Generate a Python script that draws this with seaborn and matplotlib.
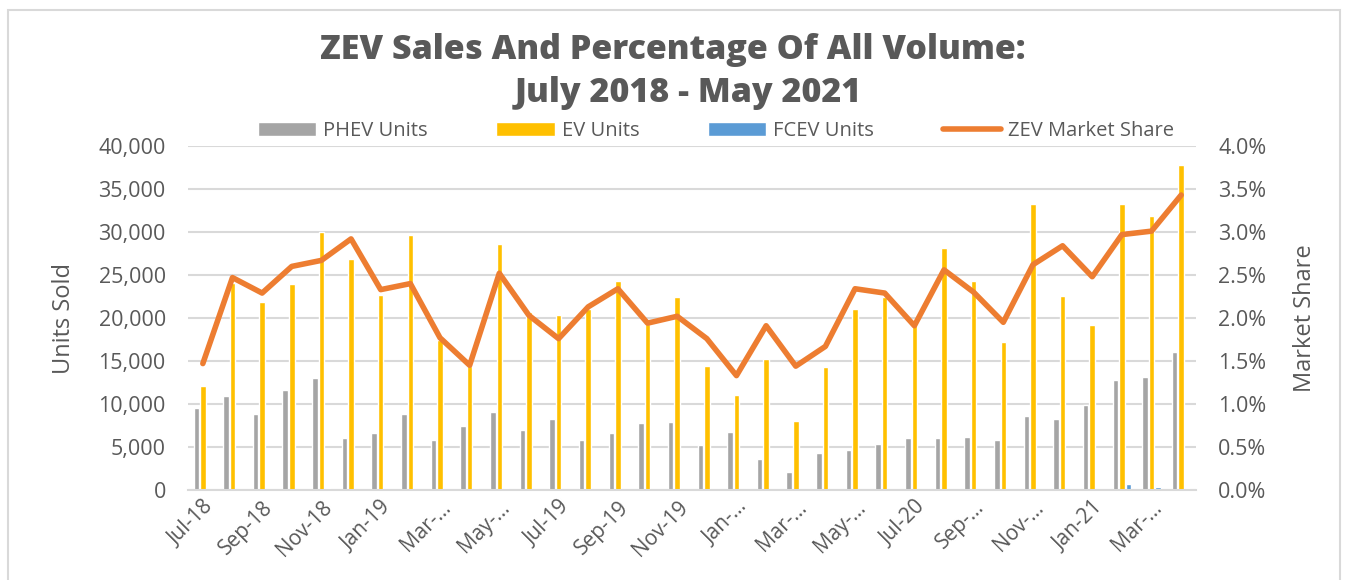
import numpy as np
import pandas as pd
import matplotlib
matplotlib.use("Agg")
import matplotlib.pyplot as plt
import seaborn as sns
from matplotlib.ticker import FuncFormatter, MultipleLocator
from matplotlib.lines import Line2D
from matplotlib.patches import Patch, Rectangle

months = ["Jul-18", "Aug-18", "Sep-18", "Oct-18", "Nov-18", "Dec-18",
          "Jan-19", "Feb-19", "Mar-19", "Apr-19", "May-19", "Jun-19",
          "Jul-19", "Aug-19", "Sep-19", "Oct-19", "Nov-19", "Dec-19",
          "Jan-20", "Feb-20", "Mar-20", "Apr-20", "May-20", "Jun-20",
          "Jul-20", "Aug-20", "Sep-20", "Oct-20", "Nov-20", "Dec-20",
          "Jan-21", "Feb-21", "Mar-21", "Apr-21"]

phev_units = [9500, 10900, 8800, 11600, 13000, 6000, 6600, 8800, 5800, 7400, 9100, 7000,
              8300, 5800, 6600, 7800, 7900, 5200, 6700, 3600, 2100, 4300, 4700, 5300,
              6000, 6100, 6200, 5800, 8600, 8300, 9900, 12800, 13100, 16000]
ev_units = [12100, 24100, 21900, 24000, 30000, 26900, 22700, 29600, 17500, 14400, 28600, 20700,
            20300, 21000, 24300, 19300, 22400, 14400, 11100, 15200, 8000, 14300, 21000, 22400,
            19300, 28100, 24300, 17200, 33200, 22600, 19200, 33200, 31900, 37800]
fcev_units = [40, 60, 40, 150, 180, 40, 40, 150, 150, 250, 180, 150,
              120, 60, 50, 150, 40, 30, 40, 10, 10, 10, 10, 10,
              30, 20, 30, 60, 30, 40, 20, 740, 350, 250]
zev_share = [1.47, 2.47, 2.29, 2.60, 2.67, 2.92, 2.33, 2.40, 1.77, 1.45, 2.52, 2.03,
             1.76, 2.13, 2.34, 1.94, 2.02, 1.76, 1.33, 1.91, 1.44, 1.67, 2.34, 2.29,
             1.91, 2.56, 2.30, 1.95, 2.62, 2.84, 2.48, 2.97, 3.01, 3.43]

tick_labels = ["Jul-18", "Sep-18", "Nov-18", "Jan-19", "Mar-\u2026", "May-\u2026",
               "Jul-19", "Sep-19", "Nov-19", "Jan-\u2026", "Mar-\u2026", "May-\u2026",
               "Jul-20", "Sep-\u2026", "Nov-\u2026", "Jan-21", "Mar-\u2026"]

series_names = ["PHEV Units", "EV Units", "FCEV Units"]
colors = {"PHEV Units": "#A5A5A5", "EV Units": "#FFC000", "FCEV Units": "#5B9BD5"}
line_color = "#ED7D31"
text_color = "#595959"
grid_color = "#D9D9D9"

df = pd.DataFrame({
    "month": months * 3,
    "type": [series_names[0]] * len(months) + [series_names[1]] * len(months) + [series_names[2]] * len(months),
    "units": phev_units + ev_units + fcev_units,
})

sns.set_theme(style="white")
plt.rcParams["font.family"] = ["Open Sans", "DejaVu Sans"]

fig = plt.figure(figsize=(13.53, 5.80), dpi=100)
ax = fig.add_axes([188 / 1353, 1 - 490 / 580, (1196 - 188) / 1353, (490 - 146) / 580])

sns.barplot(data=df, x="month", y="units", hue="type", order=months, hue_order=series_names,
            palette=colors, width=0.66, gap=0.15, ax=ax, legend=False, saturation=1)

ax.set_ylim(0, 40000)
ax.set_xlim(-0.5, len(months) - 0.5)
ax.yaxis.set_major_locator(MultipleLocator(5000))
ax.yaxis.set_major_formatter(FuncFormatter(lambda v, p: f"{int(v):,}"))
ax.grid(axis="y", color=grid_color, linewidth=1.5)
ax.set_axisbelow(True)
for s in ["top", "right", "left"]:
    ax.spines[s].set_visible(False)
ax.spines["bottom"].set_color(grid_color)
ax.spines["bottom"].set_linewidth(1.5)
ax.set_xticks(range(0, len(months), 2))
ax.set_xticklabels(tick_labels, rotation=45, ha="right", rotation_mode="anchor")
ax.tick_params(axis="x", length=0, pad=5, labelsize=15, labelcolor=text_color)
ax.tick_params(axis="y", length=0, pad=16, labelsize=15.5, labelcolor=text_color)
ax.set_xlabel("")
ax.set_ylabel("Units Sold", fontsize=17, color=text_color, labelpad=16)

ax2 = ax.twinx()
sns.lineplot(x=np.arange(len(months)), y=zev_share, ax=ax2, color=line_color, linewidth=4,
             solid_joinstyle="round", solid_capstyle="round")
ax2.set_ylim(0, 4.0)
ax2.yaxis.set_major_locator(MultipleLocator(0.5))
ax2.yaxis.set_major_formatter(FuncFormatter(lambda v, p: f"{v:.1f}%"))
for s in ["top", "right", "left", "bottom"]:
    ax2.spines[s].set_visible(False)
ax2.tick_params(axis="y", length=0, pad=16, labelsize=15.5, labelcolor=text_color)
ax2.set_ylabel("Market Share", fontsize=17, color=text_color, labelpad=19)
ax2.grid(False)

handles = [Patch(facecolor=colors[n]) for n in series_names] + \
          [Line2D([0], [0], color=line_color, linewidth=4, solid_capstyle="round")]
labels = series_names + ["ZEV Market Share"]
fig.legend(handles, labels, loc="center", bbox_to_anchor=(716 / 1353, 1 - 131 / 580), ncol=4,
           frameon=False, fontsize=14.5, labelcolor=text_color, handlelength=2.9,
           handleheight=0.75, columnspacing=3.4, handletextpad=0.35)

fig.text(673 / 1353, 1 - 50 / 580, "ZEV Sales And Percentage Of All Volume:", ha="center", va="center",
         fontsize=24.5, fontweight="heavy", color=text_color)
fig.text(688 / 1353, 1 - 93 / 580, "July 2018 - May 2021", ha="center", va="center",
         fontsize=24.5, fontweight="heavy", color=text_color)

fig.patches.append(Rectangle((8 / 1353, -0.01), (1340 - 8) / 1353, 1 - 10 / 580 + 0.01,
                             transform=fig.transFigure, fill=False, edgecolor="#D9D9D9", linewidth=1.5))

fig.savefig("out.png", dpi=100)
